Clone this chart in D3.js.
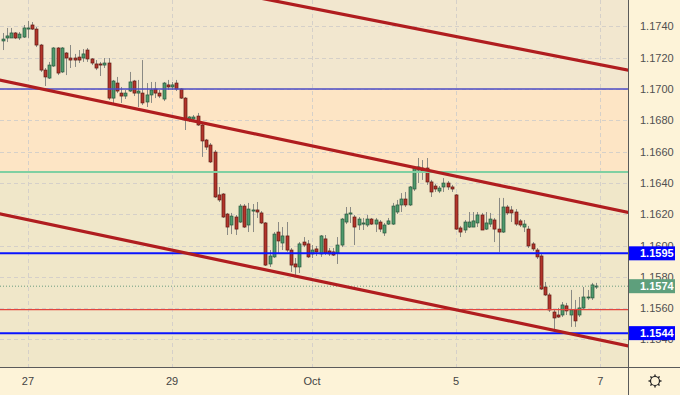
<!DOCTYPE html>
<html><head><meta charset="utf-8">
<script src="https://cdn.jsdelivr.net/npm/d3@7"></script>
<style>
html,body{margin:0;padding:0;background:#fdf3d8;}
svg{display:block;font-family:"Liberation Sans",Arial,sans-serif;}
</style>
</head><body>
<svg id="chart" width="680" height="395"></svg>
<script>
// ---------- DATA ----------
const candleIndex = d3.range(141);
const opens = [
1.17307,1.17326,1.17326,1.17358,1.17326,1.17332,1.17383,1.17409,1.17383,1.17281,
1.17121,1.17070,1.17147,1.17262,1.17109,1.17230,1.17198,1.17198,1.17204,1.17198,
1.17249,1.17192,1.17160,1.17160,1.17153,1.17166,1.16942,1.17038,1.16974,1.16955,
1.16987,1.17051,1.16974,1.16974,1.16917,1.16962,1.17000,1.16974,1.16936,1.17026,
1.17013,1.17038,1.17000,1.16942,1.16808,1.16808,1.16827,1.16770,1.16674,1.16642,
1.16597,1.16323,1.16329,1.16201,1.16131,1.16182,1.16150,1.16252,1.16131,1.16220,
1.16227,1.16208,1.16144,1.15882,1.15927,1.16086,1.16016,1.16061,1.15971,1.15882,
1.15863,1.16022,1.16010,1.15946,1.15978,1.15946,1.16042,1.15965,1.15959,1.15952,
1.16003,1.16150,1.16201,1.16182,1.16131,1.16137,1.16131,1.16169,1.16137,1.16150,
1.16080,1.16137,1.16137,1.16214,1.16259,1.16297,1.16259,1.16361,1.16482,1.16495,
1.16495,1.16406,1.16380,1.16348,1.16374,1.16399,1.16374,1.16323,1.16112,1.16099,
1.16118,1.16118,1.16144,1.16195,1.16105,1.16137,1.16163,1.16105,1.16086,1.16246,
1.16227,1.16214,1.16157,1.16118,1.16105,1.16010,1.15971,1.15933,1.15735,1.15684,
1.15575,1.15556,1.15556,1.15614,1.15556,1.15588,1.15556,1.15601,1.15665,1.15665,
1.15735];
const highs = [
1.17358,1.17390,1.17390,1.17364,1.17364,1.17409,1.17435,1.17428,1.17396,1.17288,
1.17134,1.17173,1.17268,1.17268,1.17268,1.17236,1.17281,1.17224,1.17249,1.17255,
1.17262,1.17198,1.17185,1.17173,1.17198,1.17198,1.17058,1.17077,1.17013,1.16994,
1.17109,1.17058,1.17058,1.17185,1.17038,1.17045,1.17045,1.16994,1.17045,1.17058,
1.17045,1.17058,1.17006,1.16949,1.16827,1.16834,1.16847,1.16776,1.16681,1.16655,
1.16610,1.16374,1.16335,1.16208,1.16208,1.16195,1.16265,1.16265,1.16272,1.16265,
1.16278,1.16220,1.16150,1.15971,1.16086,1.16150,1.16118,1.16150,1.15984,1.15920,
1.16022,1.16054,1.16035,1.16003,1.15997,1.16067,1.16067,1.15984,1.15984,1.16054,
1.16176,1.16246,1.16246,1.16195,1.16182,1.16176,1.16195,1.16176,1.16176,1.16163,
1.16144,1.16176,1.16272,1.16291,1.16335,1.16342,1.16380,1.16508,1.16559,1.16546,
1.16559,1.16419,1.16393,1.16380,1.16431,1.16412,1.16387,1.16329,1.16125,1.16163,
1.16214,1.16214,1.16214,1.16208,1.16214,1.16208,1.16176,1.16304,1.16304,1.16259,
1.16252,1.16233,1.16169,1.16163,1.16125,1.16022,1.15984,1.15952,1.15767,1.15697,
1.15588,1.15601,1.15639,1.15633,1.15716,1.15652,1.15671,1.15735,1.15716,1.15761,
1.15761];
const lows = [
1.17249,1.17300,1.17326,1.17319,1.17313,1.17326,1.17326,1.17377,1.17268,1.17109,
1.17019,1.17064,1.17141,1.17089,1.17102,1.17089,1.17134,1.17141,1.17166,1.17173,
1.17173,1.17153,1.17121,1.17083,1.17134,1.16930,1.16898,1.16974,1.16911,1.16936,
1.16981,1.16955,1.16885,1.16898,1.16885,1.16911,1.16942,1.16942,1.16923,1.16994,
1.16994,1.16987,1.16936,1.16738,1.16789,1.16802,1.16764,1.16566,1.16610,1.16527,
1.16304,1.16278,1.16176,1.16067,1.16073,1.16067,1.16144,1.16112,1.16086,1.16086,
1.16176,1.16137,1.15869,1.15863,1.15920,1.15952,1.15971,1.15959,1.15831,1.15812,
1.15824,1.15990,1.15920,1.15920,1.15933,1.15927,1.15939,1.15933,1.15933,1.15882,
1.15990,1.16137,1.16144,1.16003,1.16099,1.16099,1.16118,1.16131,1.16086,1.16086,
1.16061,1.16131,1.16131,1.16201,1.16214,1.16246,1.16252,1.16348,1.16399,1.16419,
1.16387,1.16310,1.16342,1.16335,1.16342,1.16355,1.16342,1.16099,1.16054,1.16080,
1.16112,1.16118,1.16118,1.16099,1.16099,1.16118,1.16022,1.15959,1.16080,1.16195,
1.16150,1.16125,1.16118,1.16086,1.15984,1.15965,1.15914,1.15716,1.15677,1.15575,
1.15460,1.15537,1.15543,1.15556,1.15480,1.15480,1.15543,1.15588,1.15652,1.15652,
1.15722];
const closes = [
1.17319,1.17339,1.17358,1.17326,1.17351,1.17390,1.17390,1.17383,1.17281,1.17121,
1.17077,1.17153,1.17262,1.17102,1.17262,1.17198,1.17185,1.17185,1.17185,1.17224,
1.17192,1.17166,1.17134,1.17153,1.17166,1.16942,1.17051,1.16987,1.16955,1.16974,
1.17045,1.16974,1.16987,1.16911,1.16962,1.16994,1.16974,1.16955,1.17038,1.17013,
1.17026,1.17000,1.16942,1.16802,1.16821,1.16821,1.16770,1.16668,1.16629,1.16534,
1.16310,1.16291,1.16182,1.16118,1.16188,1.16105,1.16252,1.16118,1.16233,1.16227,
1.16214,1.16144,1.15875,1.15933,1.16073,1.16029,1.16061,1.15971,1.15875,1.15863,
1.16010,1.16003,1.15927,1.15971,1.15959,1.16061,1.15952,1.15946,1.15939,1.16003,
1.16169,1.16201,1.16208,1.16118,1.16169,1.16144,1.16169,1.16137,1.16163,1.16105,
1.16131,1.16157,1.16252,1.16259,1.16297,1.16259,1.16374,1.16495,1.16502,1.16470,
1.16406,1.16342,1.16361,1.16367,1.16399,1.16374,1.16361,1.16105,1.16086,1.16150,
1.16150,1.16157,1.16195,1.16099,1.16144,1.16169,1.16105,1.16086,1.16246,1.16208,
1.16208,1.16137,1.16131,1.16137,1.15997,1.15978,1.15927,1.15722,1.15684,1.15588,
1.15537,1.15543,1.15620,1.15582,1.15588,1.15518,1.15601,1.15671,1.15671,1.15748,
1.15741];

const priceTicks = [1.1740,1.1720,1.1700,1.1680,1.1660,1.1640,1.1620,1.1600,1.1580,1.1560,1.1540];
const dateTickIndex = [6,40,73,107,141];
const dateTickLabels = ["27","29","Oct","5","7"];

// horizontal levels
const zoneTop = 1.1700, zoneBottom = 1.1647;
const navyLevel = 1.1700;
const greenLevel = 1.1647;
const redLevel = 1.1559;
const blueLevels = [1.1595, 1.1544];
const lastPrice = 1.1574;

// trend lines: [index1, price1, index2, price2]
const trendLines = [
  [70, 1.17532, 140, 1.17160],
  [0, 1.17054, 140, 1.16254],
  [0, 1.16198, 140, 1.15401]
];

// ---------- LAYOUT ----------
const W = 680, H = 395, plotW = 628, plotH = 368;
const svg = d3.select("#chart");
const x = d3.scaleLinear().domain([0, 140]).range([2.5, 596.1]);
const y = d3.scaleLinear().domain([1.1700, 1.1640]).range([89, 182.9]);

const defs = svg.append("defs");
defs.append("clipPath").attr("id","plotclip").append("rect")
  .attr("x",0).attr("y",0).attr("width",plotW).attr("height",plotH);

// background
svg.append("rect").attr("x",0).attr("y",0).attr("width",W).attr("height",H).attr("fill","#fdf3d8");
const plot = svg.append("g").attr("clip-path","url(#plotclip)");
plot.append("rect").attr("x",0).attr("y",0).attr("width",plotW).attr("height",y(zoneTop)).attr("fill","#f2e7cf");
plot.append("rect").attr("x",0).attr("y",y(zoneTop)).attr("width",plotW).attr("height",y(zoneBottom)-y(zoneTop)).attr("fill","#fde5c5");
plot.append("rect").attr("x",0).attr("y",y(zoneBottom)).attr("width",plotW).attr("height",plotH-y(zoneBottom)).attr("fill","#f0e7c9");

// grid
plot.selectAll(".hg").data(priceTicks).join("line")
  .attr("x1",0).attr("x2",plotW)
  .attr("y1",d=>Math.round(y(d))+0.5).attr("y2",d=>Math.round(y(d))+0.5)
  .attr("stroke","#d5d0c9").attr("stroke-width",1).attr("stroke-dasharray","4,3");
plot.selectAll(".vg").data(dateTickIndex).join("line")
  .attr("x1",d=>Math.round(x(d))+0.5).attr("x2",d=>Math.round(x(d))+0.5)
  .attr("y1",0).attr("y2",plotH)
  .attr("stroke","#d5d0c9").attr("stroke-width",1).attr("stroke-dasharray","4,3");

// candles
const bodyW = 3;
const cg = plot.append("g");
cg.selectAll(".wick").data(candleIndex).join("line")
  .attr("x1",i=>Math.round(x(i))+0.5).attr("x2",i=>Math.round(x(i))+0.5)
  .attr("y1",i=>y(highs[i])).attr("y2",i=>y(lows[i]))
  .attr("stroke","#8a8a84").attr("stroke-width",1);
cg.selectAll(".body").data(candleIndex).join("rect")
  .attr("x",i=>Math.round(x(i))-1)
  .attr("y",i=>y(Math.max(opens[i],closes[i])))
  .attr("width",bodyW)
  .attr("height",i=>Math.max(1,Math.abs(y(opens[i])-y(closes[i]))))
  .attr("fill",i=>closes[i]>=opens[i]?"#4f9a6c":"#b3352b")
  .attr("stroke",i=>closes[i]>=opens[i]?"#25553a":"#5e1912")
  .attr("stroke-width",0.7);

// horizontal levels
function hline(v,color,w,dash){
  const l = plot.append("line").attr("x1",0).attr("x2",plotW)
    .attr("y1",y(v)).attr("y2",y(v)).attr("stroke",color).attr("stroke-width",w);
  if(dash) l.attr("stroke-dasharray",dash);
}
hline(navyLevel,"#4b4bc4",1.3);
hline(greenLevel,"#7fd0a2",2);
hline(redLevel,"#e2463e",1.2);
hline(lastPrice,"#6a9c80",1,"1,2");
blueLevels.forEach(v=>hline(v,"#0a14ff",2));

// trend lines extended across the plot
trendLines.forEach(t=>{
  const [i1,p1,i2,p2] = t;
  const slope = (p2-p1)/(i2-i1);
  const iA = x.invert(-5), iB = x.invert(plotW+5);
  plot.append("line")
    .attr("x1",x(iA)).attr("y1",y(p1+slope*(iA-i1)))
    .attr("x2",x(iB)).attr("y2",y(p1+slope*(iB-i1)))
    .attr("stroke","#b01d1f").attr("stroke-width",3.2).attr("stroke-linecap","round");
});

// axis borders
svg.append("line").attr("x1",0).attr("x2",W).attr("y1",plotH-0.5).attr("y2",plotH-0.5).attr("stroke","#5a5a5a").attr("stroke-width",1);
svg.append("line").attr("x1",plotW+0.5).attr("x2",plotW+0.5).attr("y1",0).attr("y2",H).attr("stroke","#5a5a5a").attr("stroke-width",1);

// price labels
svg.selectAll(".pl").data(priceTicks).join("text")
  .attr("x",640).attr("y",d=>y(d)+4)
  .attr("font-size",11).attr("fill","#505050").text(d=>d.toFixed(4));

// price boxes
function box(v,fill){
  const cy = y(v);
  svg.append("rect").attr("x",plotW+1).attr("y",cy-7).attr("width",46).attr("height",14).attr("fill",fill);
  svg.append("text").attr("x",640).attr("y",cy+4).attr("font-size",11).attr("font-weight","bold")
    .attr("fill","#ffffff").text(v.toFixed(4));
}
blueLevels.forEach(v=>box(v,"#0000ff"));
box(lastPrice,"#5e9f7c");

// date labels
svg.selectAll(".dl").data(dateTickIndex).join("text")
  .attr("x",d=>x(d)).attr("y",385).attr("text-anchor","middle")
  .attr("font-size",11).attr("fill","#444").text((d,k)=>dateTickLabels[k]);

// gear icon
const gx = 655, gy = 381;
const gear = svg.append("g").attr("transform",`translate(${gx},${gy})`);
d3.range(8).forEach(k=>{
  const a = k*Math.PI/4;
  gear.append("line").attr("x1",Math.cos(a)*4.5).attr("y1",Math.sin(a)*4.5)
    .attr("x2",Math.cos(a)*6.5).attr("y2",Math.sin(a)*6.5)
    .attr("stroke","#222").attr("stroke-width",1.4);
});
gear.append("circle").attr("r",4.5).attr("fill","none").attr("stroke","#222").attr("stroke-width",1.2);
</script>
</body></html>
